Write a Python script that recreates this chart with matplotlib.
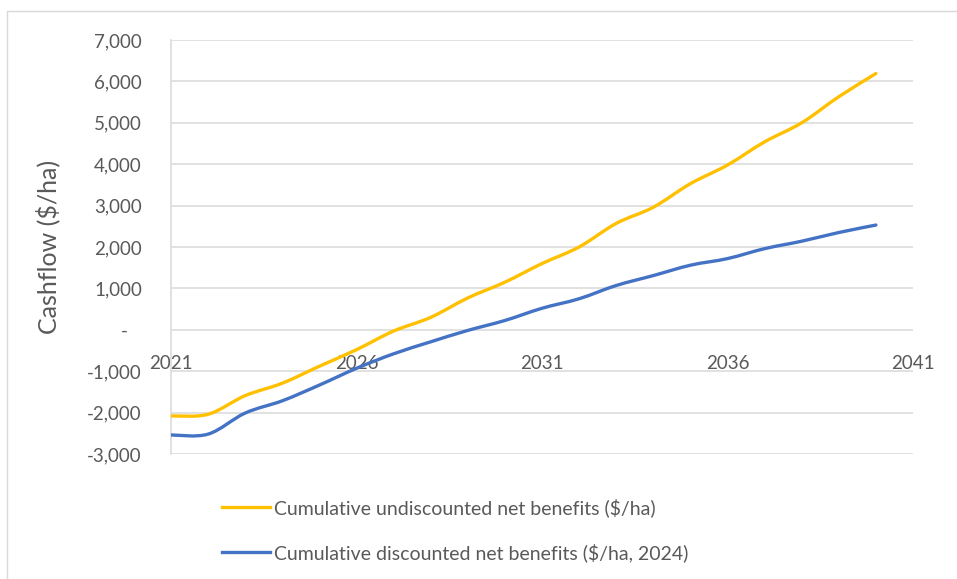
import matplotlib
matplotlib.use("Agg")
import matplotlib.pyplot as plt
from matplotlib.path import Path
from matplotlib.patches import PathPatch, Rectangle
from matplotlib.lines import Line2D
from matplotlib.ticker import FuncFormatter, MultipleLocator, FixedLocator
import numpy as np

years = list(range(2021, 2041))
undiscounted = [-2080, -2040, -1590, -1290, -880, -480, -30, 300, 770, 1150,
                1600, 2000, 2570, 2960, 3530, 3980, 4540, 5000, 5630, 6190]
discounted = [-2540, -2520, -2010, -1715, -1335, -930, -580, -290, -15, 225,
              520, 750, 1070, 1310, 1560, 1720, 1960, 2140, 2350, 2530]
x_ticks = [2021, 2026, 2031, 2036, 2041]
series_labels = ["Cumulative undiscounted net benefits ($/ha)",
                 "Cumulative discounted net benefits ($/ha, 2024)"]
series_colors = ["#FFC000", "#4472C4"]
y_label = "Cashflow ($/ha)"

plt.rcParams['font.family'] = ['Lato', 'DejaVu Sans']
TXT = '#595959'

W, H = 957, 579
fig = plt.figure(figsize=(W / 100, H / 100), dpi=100)
ax = fig.add_axes([171 / W, 1 - 454 / H, (913 - 171) / W, (454 - 40) / H])

def smooth_path(x, y):
    pts = np.column_stack([x, y]).astype(float)
    n = len(pts)
    verts = [pts[0]]
    codes = [Path.MOVETO]
    for i in range(n - 1):
        p0 = pts[i - 1] if i > 0 else pts[i]
        p1 = pts[i]
        p2 = pts[i + 1]
        p3 = pts[i + 2] if i + 2 < n else pts[i + 1]
        c1 = p1 + (p2 - p0) / 6.0
        c2 = p2 - (p3 - p1) / 6.0
        verts += [c1, c2, p2]
        codes += [Path.CURVE4] * 3
    return Path(verts, codes)

for vals, col in zip([undiscounted, discounted], series_colors):
    patch = PathPatch(smooth_path(years, vals), facecolor='none', edgecolor=col,
                      lw=2.4, capstyle='round', joinstyle='round', zorder=3)
    ax.add_patch(patch)

ax.set_xlim(2021, 2041)
ax.set_ylim(-3000, 7000)
ax.yaxis.set_major_locator(MultipleLocator(1000))
ax.xaxis.set_major_locator(FixedLocator(x_ticks))

def yfmt(v, pos):
    if abs(v) < 1e-6:
        return "-   "
    return f"{int(round(v)):,}"

ax.yaxis.set_major_formatter(FuncFormatter(yfmt))
ax.xaxis.set_major_formatter(FuncFormatter(lambda v, p: f"{int(round(v))}"))

ax.grid(axis='y', color='#d9d9d9', lw=1.1)
ax.set_axisbelow(True)
for s in ['top', 'right', 'bottom']:
    ax.spines[s].set_visible(False)
ax.spines['left'].set_color('#d9d9d9')
ax.spines['left'].set_linewidth(1.1)
ax.spines['bottom'].set_position(('data', 0))

ax.tick_params(axis='y', length=0, pad=21, labelsize=13.5, labelcolor=TXT)
ax.tick_params(axis='x', length=0, pad=18, labelsize=13.5, labelcolor=TXT)
for lbl in ax.get_xticklabels():
    lbl.set_clip_on(False)

ax.set_ylabel(y_label, fontsize=18, color=TXT)
ax.yaxis.set_label_coords((60 - 171) / (913 - 171), 0.5)

handles = [Line2D([], [], color=c, lw=2.4) for c in series_colors]
fig.legend(handles, series_labels, loc='center left',
           bbox_to_anchor=(222 / W, 1 - 530 / H), frameon=False,
           fontsize=14, labelcolor=TXT, handlelength=2.45, handletextpad=0.25,
           borderpad=0, borderaxespad=0, labelspacing=1.36)

fig.patches.append(Rectangle((7 / W, -0.1), 1.2, 1.1 - 11 / H, transform=fig.transFigure,
                             fill=False, edgecolor='#d9d9d9', lw=1))

fig.savefig("out.png", dpi=100)
